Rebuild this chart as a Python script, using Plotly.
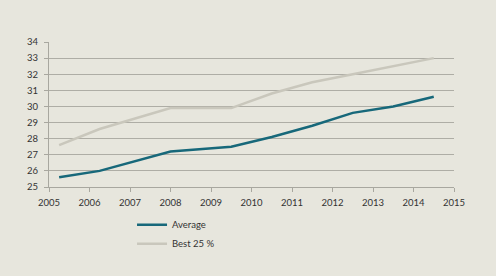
import plotly.graph_objects as go

avg_x = [2005.25, 2006.25, 2008.0, 2009.5, 2010.5, 2011.5, 2012.5, 2013.5, 2014.5]
avg_y = [25.6, 26.0, 27.2, 27.5, 28.1, 28.8, 29.6, 30.0, 30.6]
best_x = [2005.25, 2006.25, 2008.0, 2009.5, 2010.5, 2011.5, 2012.5, 2013.5, 2014.5]
best_y = [27.6, 28.6, 29.9, 29.9, 30.8, 31.5, 32.0, 32.5, 33.0]
x_ticks = list(range(2005, 2016))
y_ticks = list(range(25, 35))

bg = "#e7e6dd"
fig = go.Figure()
fig.add_trace(go.Scatter(x=avg_x, y=avg_y, mode="lines", name="Average",
                         line=dict(color="#17687a", width=2.5)))
fig.add_trace(go.Scatter(x=best_x, y=best_y, mode="lines", name="Best 25 %",
                         line=dict(color="#c9c7bc", width=2.5)))

fig.update_layout(
    width=496, height=276,
    paper_bgcolor=bg, plot_bgcolor=bg,
    margin=dict(l=49, r=42, t=42, b=89),
    font=dict(family="Lato, Open Sans, sans-serif", size=9.5, color="#333333"),
    showlegend=True,
    legend=dict(x=0.205, y=-0.16, xanchor="left", yanchor="top",
                bgcolor="rgba(0,0,0,0)", tracegroupgap=0, itemwidth=30,
                font=dict(size=9.5), orientation="v"),
    xaxis=dict(range=[2005, 2015], tickvals=x_ticks, ticktext=[str(v) for v in x_ticks],
               showgrid=False, zeroline=False, showline=True, linecolor="#a8a79f",
               ticks="outside", ticklen=4, tickcolor="#a8a79f", ticklabelstandoff=3),
    yaxis=dict(range=[25, 34], tickvals=y_ticks, showgrid=True, gridcolor="#aeada5",
               gridwidth=1, zeroline=False, showline=True, linecolor="#a8a79f",
               ticks="outside", ticklen=4, tickcolor="#a8a79f", ticklabelstandoff=4),
)
fig.write_html("out.html")
